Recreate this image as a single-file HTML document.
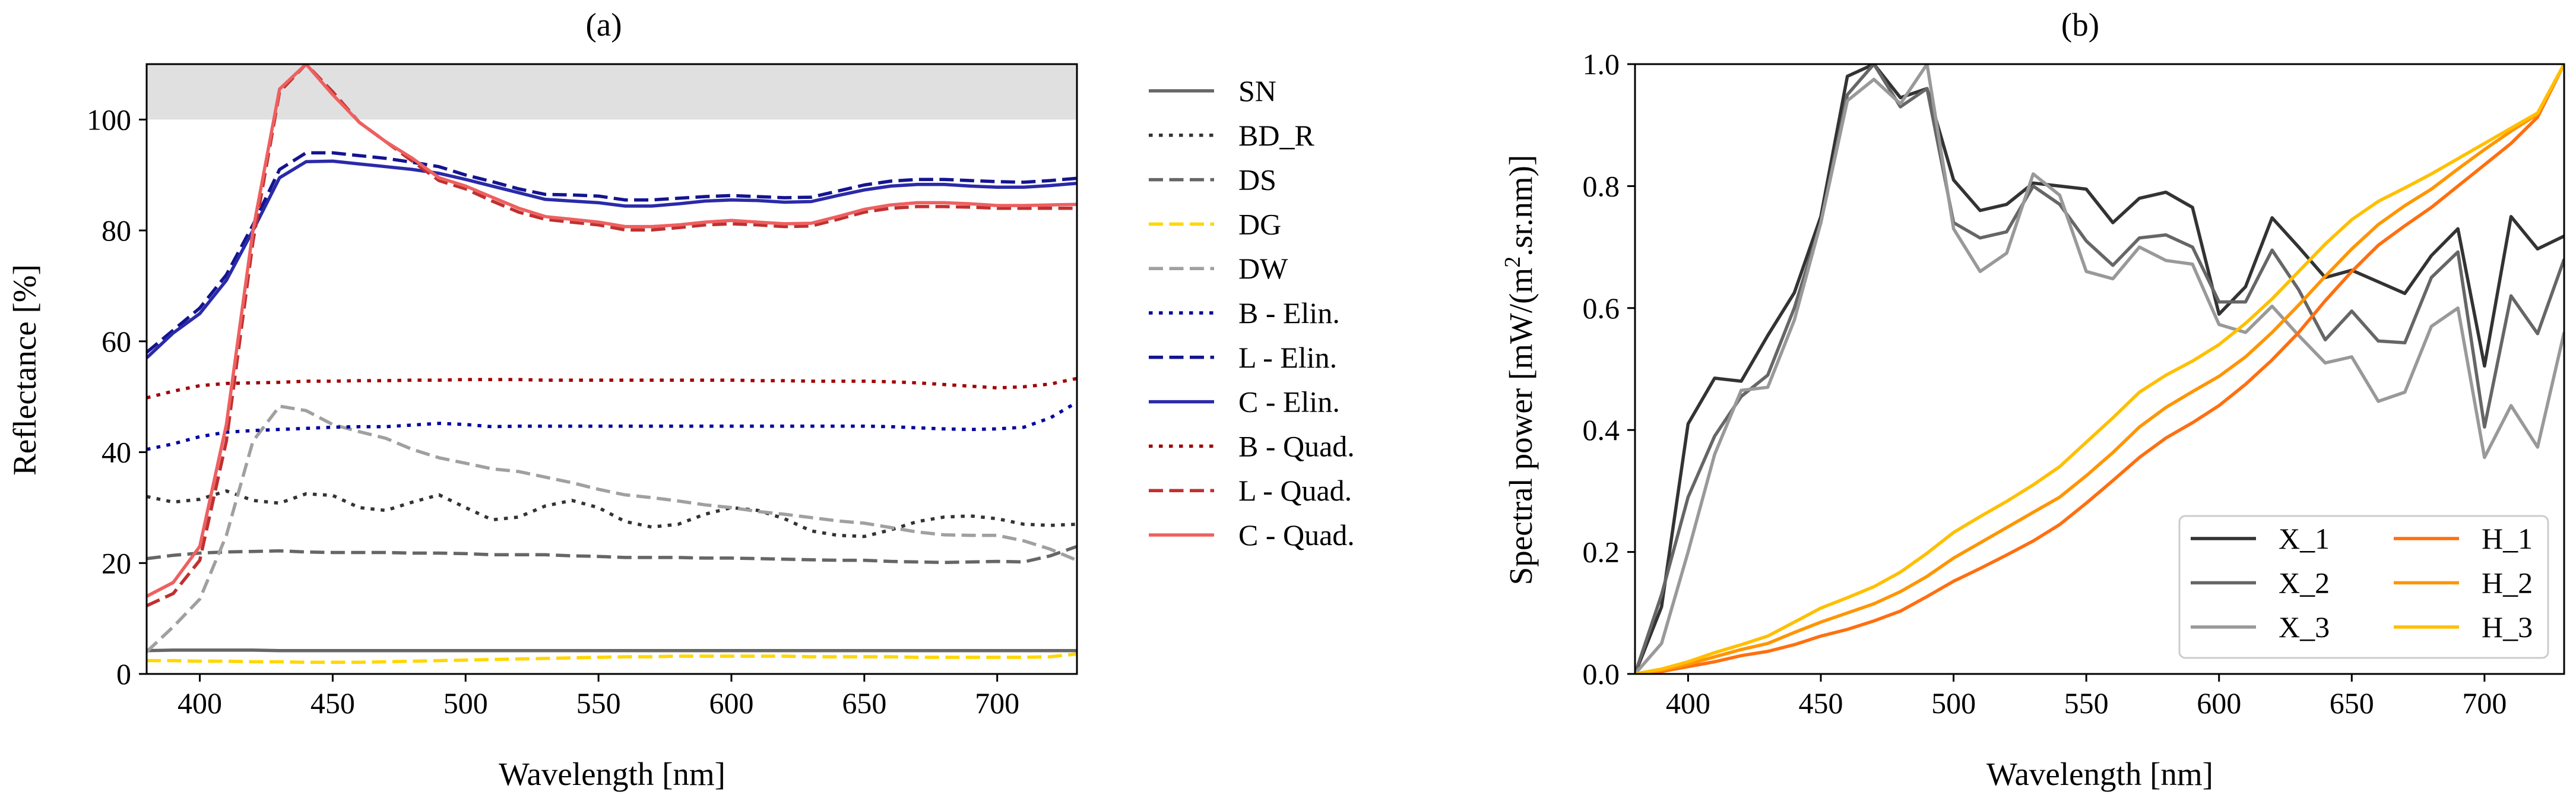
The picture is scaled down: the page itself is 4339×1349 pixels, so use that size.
<!DOCTYPE html>
<html><head><meta charset="utf-8"><style>
html,body{margin:0;padding:0;background:#fff;}
svg{display:block;font-family:"Liberation Serif","DejaVu Serif",serif;}
</style></head><body>
<svg id="fig" width="4339" height="1349" viewBox="0 0 4339 1349" xmlns="http://www.w3.org/2000/svg"></svg>
<script>
// ---------- Data ----------
const wl = [380,390,400,410,420,430,440,450,460,470,480,490,500,510,520,530,540,550,560,570,580,590,600,610,620,630,640,650,660,670,680,690,700,710,720,730];
const snVals = [4.2,4.3,4.3,4.3,4.3,4.2,4.2,4.2,4.2,4.2,4.2,4.2,4.2,4.2,4.2,4.2,4.2,4.2,4.2,4.2,4.2,4.2,4.2,4.2,4.2,4.2,4.2,4.2,4.2,4.2,4.2,4.2,4.2,4.2,4.2,4.2];
const bdrVals = [32,31,31.5,33,31.3,30.8,32.5,32.2,30,29.5,31,32.3,30,27.8,28.3,30.3,31.3,30,27.5,26.5,27,28.8,30,29.5,28,25.8,25,24.8,26,27.5,28.3,28.5,28,27,26.8,27];
const dsVals = [20.8,21.4,21.8,22,22.1,22.2,22,21.9,21.9,21.9,21.8,21.8,21.7,21.5,21.5,21.5,21.3,21.2,21,21,21,20.9,20.9,20.8,20.7,20.6,20.5,20.5,20.3,20.2,20.1,20.2,20.3,20.2,21.3,23];
const dgVals = [2.4,2.4,2.3,2.3,2.2,2.2,2.1,2.1,2.1,2.2,2.3,2.4,2.5,2.6,2.7,2.8,2.9,3,3.1,3.1,3.2,3.2,3.2,3.2,3.2,3.1,3.1,3.1,3.1,3,3,3,3,3,3.1,3.6];
const dwVals = [4,8.5,13.5,25,42,48.3,47.5,45,43.7,42.5,40.5,39,38,37,36.5,35.5,34.5,33.3,32.3,31.8,31.2,30.5,30,29.3,28.8,28.2,27.6,27.2,26.4,25.6,25.1,25,25,24,22.5,20.5];
const bElinVals = [40.5,41.5,42.8,43.6,43.9,44.1,44.3,44.5,44.6,44.6,44.9,45.2,45,44.6,44.7,44.7,44.7,44.7,44.7,44.7,44.7,44.7,44.7,44.7,44.7,44.7,44.7,44.7,44.6,44.4,44.2,44.1,44.2,44.5,46.2,49];
const lElinVals = [58,62,66,72,81,91,94,94,93.5,93,92.3,91.5,90,88.8,87.5,86.5,86.4,86.2,85.5,85.5,85.8,86.1,86.3,86.1,85.9,86,87.1,88.2,88.9,89.2,89.2,89,88.8,88.7,89,89.4];
const cElinVals = [57,61.5,65,71,80,89.5,92.4,92.5,92,91.5,91,90.3,89.2,88,86.8,85.6,85.3,85,84.4,84.4,84.8,85.3,85.5,85.4,85.1,85.2,86.3,87.3,88,88.3,88.3,88,87.8,87.8,88.1,88.5];
const bQuadVals = [49.8,51,52,52.4,52.5,52.6,52.8,52.8,52.9,52.9,53,53,53.1,53.1,53.1,53,53,53,53,53,53,53,53,52.9,52.9,52.8,52.8,52.8,52.7,52.5,52.2,51.9,51.6,51.8,52.3,53.3];
const lQuadVals = [12.3,14.5,20.5,42,78,105,110,105,99.5,96,92.5,89,87.5,85.3,83.3,82,81.5,81,80.1,80.1,80.5,81,81.2,81,80.7,80.8,82,83.3,84,84.3,84.3,84.2,84,84,84,84];
const cQuadVals = [14,16.5,23,45,80,105.5,110,104.5,99.5,96,93,89.5,88,86,84,82.5,82,81.5,80.7,80.7,81,81.5,81.8,81.5,81.2,81.3,82.5,83.8,84.6,85,85,84.8,84.5,84.5,84.6,84.7];
const leftYTicks = [0,20,40,60,80,100];
const xTicks = [400,450,500,550,600,650,700];

const x1Vals = [0,0.11,0.41,0.485,0.48,0.555,0.625,0.75,0.98,1.0,0.945,0.96,0.81,0.76,0.77,0.805,0.8,0.795,0.74,0.78,0.79,0.765,0.59,0.635,0.748,0.7,0.65,0.662,0.643,0.624,0.686,0.73,0.505,0.75,0.697,0.718];
const x2Vals = [0,0.13,0.29,0.39,0.455,0.49,0.6,0.74,0.95,1.0,0.93,0.96,0.74,0.715,0.725,0.8,0.77,0.71,0.67,0.715,0.72,0.7,0.61,0.61,0.695,0.63,0.548,0.595,0.546,0.543,0.65,0.692,0.405,0.62,0.558,0.68];
const x3Vals = [0,0.05,0.2,0.36,0.465,0.47,0.58,0.74,0.94,0.975,0.935,1.0,0.73,0.66,0.69,0.82,0.785,0.66,0.648,0.7,0.678,0.672,0.573,0.56,0.603,0.555,0.51,0.52,0.447,0.462,0.57,0.6,0.355,0.44,0.372,0.56];
const h1Vals = [0,0.004,0.012,0.02,0.03,0.037,0.048,0.062,0.073,0.087,0.103,0.127,0.152,0.173,0.195,0.218,0.245,0.28,0.317,0.355,0.387,0.412,0.44,0.475,0.515,0.56,0.612,0.66,0.703,0.735,0.765,0.8,0.835,0.87,0.913,1.0];
const h2Vals = [0,0.006,0.016,0.028,0.04,0.05,0.068,0.085,0.1,0.115,0.135,0.16,0.19,0.215,0.24,0.265,0.29,0.325,0.363,0.405,0.437,0.463,0.488,0.52,0.56,0.605,0.652,0.697,0.737,0.768,0.795,0.828,0.86,0.89,0.918,1.0];
const h3Vals = [0,0.008,0.02,0.035,0.048,0.062,0.085,0.108,0.125,0.143,0.167,0.198,0.232,0.258,0.283,0.31,0.34,0.38,0.42,0.462,0.49,0.513,0.54,0.575,0.615,0.66,0.705,0.745,0.775,0.797,0.82,0.845,0.87,0.895,0.92,1.0];
const rightYTicks = [0,0.2,0.4,0.6,0.8,1.0];
const rightYTickLabels = ["0.0","0.2","0.4","0.6","0.8","1.0"];

// ---------- Drawing ----------
const NS = "http://www.w3.org/2000/svg";
const svg = document.getElementById("fig");
function mk(tag, attrs, parent){
  const e = document.createElementNS(NS, tag);
  for (const k in attrs) e.setAttribute(k, attrs[k]);
  (parent||svg).appendChild(e);
  return e;
}
const DASH = "24 10.5", DOT = "6.5 10.5";

// Panel A scales
const A = {l:247, r:1814, t:108, b:1135, x0:380, x1:730, y0:0, y1:110};
const B = {l:2754, r:4319, t:108, b:1135, x0:380, x1:730, y0:0, y1:1};
function sx(P,v){return P.l + (v-P.x0)/(P.x1-P.x0)*(P.r-P.l);}
function sy(P,v){return P.b - (v-P.y0)/(P.y1-P.y0)*(P.b-P.t);}

function clip(P,id){
  const d = mk("defs",{});
  const c = mk("clipPath",{id:id},d);
  mk("rect",{x:P.l,y:P.t,width:P.r-P.l,height:P.b-P.t},c);
}
clip(A,"clipA"); clip(B,"clipB");

// gray band
const band = mk("rect",{x:A.l,y:sy(A,110),width:A.r-A.l,height:sy(A,100)-sy(A,110),fill:"#e0e0e0"});



function series(P, clipId, vals, color, dash, name){
  const pts = wl.map((w,i)=> sx(P,w).toFixed(1)+","+sy(P,vals[i]).toFixed(1)).join(" ");
  const a = {points:pts, fill:"none", stroke:color, "stroke-width":5.5, "stroke-linejoin":"round", "clip-path":"url(#"+clipId+")"};
  if (dash) a["stroke-dasharray"] = dash;
  const e = mk("polyline", a);
  
  
  return e;
}

const leftSeries = [
  ["SN", snVals, "#666666", null, "series-sn"],
  ["BD_R", bdrVals, "#333333", DOT, "series-bd-r"],
  ["DS", dsVals, "#666666", DASH, "series-ds"],
  ["DG", dgVals, "#ffd700", DASH, "series-dg"],
  ["DW", dwVals, "#a0a0a0", DASH, "series-dw"],
  ["B - Elin.", bElinVals, "#00009e", DOT, "series-b-elin"],
  ["L - Elin.", lElinVals, "#141490", DASH, "series-l-elin"],
  ["C - Elin.", cElinVals, "#2a2aa8", null, "series-c-elin"],
  ["B - Quad.", bQuadVals, "#a00000", DOT, "series-b-quad"],
  ["L - Quad.", lQuadVals, "#c03030", DASH, "series-l-quad"],
  ["C - Quad.", cQuadVals, "#ee6060", null, "series-c-quad"]
];
leftSeries.forEach(s=>series(A,"clipA",s[1],s[2],s[3],s[4]));

const rightSeries = [
  ["X_1", x1Vals, "#333333", "series-x-1"],
  ["X_2", x2Vals, "#666666", "series-x-2"],
  ["X_3", x3Vals, "#999999", "series-x-3"],
  ["H_1", h1Vals, "#ff6f0f", "series-h-1"],
  ["H_2", h2Vals, "#ff9500", "series-h-2"],
  ["H_3", h3Vals, "#ffbf00", "series-h-3"]
];
rightSeries.forEach(s=>series(B,"clipB",s[1],s[2],null,s[3]));

function axes(P, yTicks, yLabels, prefix){
  const f = mk("rect",{x:P.l,y:P.t,width:P.r-P.l,height:P.b-P.t,fill:"none",stroke:"#000","stroke-width":3});
  
  
  xTicks.forEach(v=>{
    const X = sx(P,v);
    const t = mk("line",{x1:X,x2:X,y1:P.b,y2:P.b+13,stroke:"#000","stroke-width":3});
    
    
    const tx = mk("text",{x:X,y:P.b+66,"text-anchor":"middle","font-size":50});
    tx.textContent = v;
    
    
  });
  yTicks.forEach((v,i)=>{
    const Y = sy(P,v);
    const t = mk("line",{x1:P.l-13,x2:P.l,y1:Y,y2:Y,stroke:"#000","stroke-width":3});
    
    
    const tx = mk("text",{x:P.l-26,y:Y+17,"text-anchor":"end","font-size":50});
    tx.textContent = yLabels[i];
    
    
  });
}
axes(A, leftYTicks, leftYTicks.map(String), "left");
axes(B, rightYTicks, rightYTickLabels, "right");

function text(x,y,str,size,name,rot){
  const a = {x:x,y:y,"text-anchor":"middle","font-size":size};
  if (rot) a.transform = "rotate(-90 "+x+" "+y+")";
  const t = mk("text",a);
  t.textContent = str;
  
  
  return t;
}
text(1017,60,"(a)",55,"left-panel-title");
text(3504,60,"(b)",55,"right-panel-title");
text(1031,1322,"Wavelength [nm]",55,"left-x-axis-title");
text(3537,1322,"Wavelength [nm]",55,"right-x-axis-title");
text(60,623,"Reflectance [%]",55,"left-y-axis-title",true);
const yt = text(2580,623,"",55,"right-y-axis-title",true);
yt.innerHTML = 'Spectral power [mW/(m<tspan dy="-20" font-size="38">2</tspan><tspan dy="20">.sr.nm)]</tspan>';

// Left legend
leftSeries.forEach((s,i)=>{
  const y = 153 + i*74.8;
  const g = mk("g",{});
  
  
  const a = {x1:1935,x2:2045,y1:y,y2:y,stroke:s[2],"stroke-width":5.5};
  if (s[3]) a["stroke-dasharray"]=s[3];
  mk("line",a,g);
  const t = mk("text",{x:2086,y:y+17,"font-size":50},g);
  t.textContent = s[0];
});

// Right legend
const lb = mk("rect",{x:3671,y:869,width:621,height:239,rx:10,fill:"#fff","fill-opacity":0.85,stroke:"#cccccc","stroke-width":3});


rightSeries.forEach((s,i)=>{
  const col = Math.floor(i/3), row = i%3;
  const y = 907 + row*74.5;
  const lx = col===0 ? 3690 : 4032;
  const g = mk("g",{});
  
  
  mk("line",{x1:lx,x2:lx+110,y1:y,y2:y,stroke:s[2],"stroke-width":5.5},g);
  const t = mk("text",{x:lx+148,y:y+17,"font-size":50},g);
  t.textContent = s[0];
});
</script>
</body></html>
